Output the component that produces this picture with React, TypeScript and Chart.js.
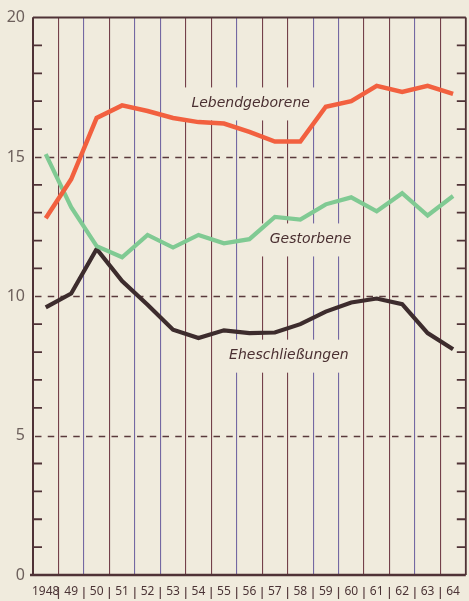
import { useEffect, useRef } from 'react';
import { Chart, registerables } from 'chart.js';

Chart.register(...registerables);

// ---- data ----
const years = ['1948', '49', '50', '51', '52', '53', '54', '55', '56', '57', '58', '59', '60', '61', '62', '63', '64'];
const lebendgeborene = [12.8, 14.2, 16.4, 16.85, 16.65, 16.4, 16.25, 16.2, 15.9, 15.55, 15.55, 16.8, 17.0, 17.55, 17.33, 17.55, 17.26];
const gestorbene = [15.1, 13.2, 11.8, 11.4, 12.2, 11.75, 12.2, 11.9, 12.05, 12.85, 12.75, 13.3, 13.55, 13.05, 13.7, 12.9, 13.6];
const eheschliessungen = [9.6, 10.1, 11.7, 10.55, 9.7, 8.8, 8.5, 8.78, 8.68, 8.7, 9.0, 9.45, 9.78, 9.92, 9.72, 8.68, 8.1];
const seriesNames = ['Lebendgeborene', 'Gestorbene', 'Eheschließungen'];
// label anchors in data units (category index, value)
const labelIndex = [8.05, 10.4, 9.55];
const labelValue = [16.92, 12.04, 7.87];
const yTicks = [0, 5, 10, 15, 20];
const dashedValues = [5, 10, 15];

// ---- styles ----
const BG = '#f0ebdd';
const RED = '#f2603f';
const GREEN = '#80ca93';
const BLACK = '#3d2c2d';
const DARK = '#4f3236';
const BROWN = '#74404a';
const PURPLE = '#7468a2';
const gridColors = [DARK, BROWN, PURPLE, BROWN, PURPLE, PURPLE, BROWN, BROWN, PURPLE, BROWN, BROWN, PURPLE, PURPLE, BROWN, BROWN, PURPLE, BROWN, DARK];
const SANS = '"Noto Sans", sans-serif';

const decorPlugin = {
  id: 'decor',
  beforeDraw(chart: any) {
    const ctx = chart.ctx;
    ctx.save();
    ctx.fillStyle = BG;
    ctx.fillRect(0, 0, chart.width, chart.height);
    ctx.restore();
  },
  beforeDatasetsDraw(chart: any) {
    const ctx = chart.ctx;
    const { left, right, top, bottom } = chart.chartArea;
    const y = chart.scales.y;
    const x = chart.scales.x;
    ctx.save();
    // dashed lines
    ctx.strokeStyle = '#5a3a3c';
    ctx.lineWidth = 1.5;
    ctx.setLineDash([6.5, 6.25]);
    ctx.lineDashOffset = -2;
    for (const v of dashedValues) {
      const py = Math.round(y.getPixelForValue(v)) + 0.5;
      ctx.beginPath();
      ctx.moveTo(left, py);
      ctx.lineTo(right, py);
      ctx.stroke();
    }
    ctx.setLineDash([]);
    // minor ticks
    ctx.strokeStyle = DARK;
    ctx.lineWidth = 1.8;
    for (let v = 1; v < 20; v++) {
      if (v % 5 === 0) continue;
      const py = y.getPixelForValue(v);
      ctx.beginPath();
      ctx.moveTo(left, py);
      ctx.lineTo(left + 9, py);
      ctx.moveTo(right - 9, py);
      ctx.lineTo(right, py);
      ctx.stroke();
    }
    // frame
    ctx.strokeStyle = DARK;
    ctx.lineWidth = 2;
    ctx.beginPath();
    ctx.moveTo(left, top);
    ctx.lineTo(right, top);
    ctx.stroke();
    ctx.lineWidth = 1.8;
    ctx.beginPath();
    ctx.moveTo(right, top);
    ctx.lineTo(right, bottom);
    ctx.stroke();
    ctx.lineWidth = 2;
    ctx.beginPath();
    ctx.moveTo(left, top);
    ctx.lineTo(left, bottom);
    ctx.stroke();
    ctx.lineWidth = 2.5;
    ctx.beginPath();
    ctx.moveTo(left - 3, bottom);
    ctx.lineTo(right, bottom);
    ctx.stroke();
    // separators between year labels
    ctx.strokeStyle = '#5a4042';
    ctx.lineWidth = 1.2;
    for (let i = 1; i < years.length; i++) {
      const px = (x.getPixelForValue(i - 1) + x.getPixelForValue(i)) / 2;
      ctx.beginPath();
      ctx.moveTo(px, bottom + 12);
      ctx.lineTo(px, bottom + 24);
      ctx.stroke();
    }
    // series labels with background boxes that cut the grid lines
    ctx.font = 'italic 14px "DejaVu Sans"';
    ctx.textAlign = 'center';
    ctx.textBaseline = 'middle';
    seriesNames.forEach((name, i) => {
      const cx = x.getPixelForValue(labelIndex[i]);
      const cy = y.getPixelForValue(labelValue[i]);
      const w = ctx.measureText(name).width;
      ctx.fillStyle = BG;
      ctx.fillRect(cx - w / 2 - 9, cy - 16, w + 18, 33);
      ctx.fillStyle = '#4a2f31';
      ctx.fillText(name, cx, cy);
    });
    ctx.restore();
  },
};

export default function App() {
  const ref = useRef<HTMLCanvasElement>(null);
  useEffect(() => {
    document.body.style.margin = '0';
    document.body.style.background = BG;
    const chart = new Chart(ref.current as HTMLCanvasElement, {
      type: 'line',
      data: {
        labels: years,
        datasets: [
          { label: seriesNames[0], data: lebendgeborene, borderColor: RED, borderWidth: 4.5, pointRadius: 0, tension: 0, fill: false },
          { label: seriesNames[1], data: gestorbene, borderColor: GREEN, borderWidth: 4.2, pointRadius: 0, tension: 0, fill: false },
          { label: seriesNames[2], data: eheschliessungen, borderColor: BLACK, borderWidth: 4.2, pointRadius: 0, tension: 0, fill: false },
        ],
      },
      options: {
        responsive: false,
        animation: false,
        devicePixelRatio: 1,
        layout: { padding: { top: 16, right: 2, left: 0, bottom: 0 } },
        plugins: { legend: { display: false }, tooltip: { enabled: false } },
        scales: {
          x: {
            type: 'category',
            offset: true,
            border: { display: false },
            grid: {
              offset: true,
              drawTicks: false,
              lineWidth: 1.1,
              color: (c: any) => gridColors[c.index ?? gridColors.length - 1] || DARK,
            },
            ticks: {
              padding: 9,
              autoSkip: false,
              maxRotation: 0,
              color: '#4b3436',
              font: { family: SANS, size: 12 },
            },
            afterFit: (s: any) => { s.height = 26; },
          },
          y: {
            min: 0,
            max: 20,
            border: { display: false },
            grid: { display: false, drawTicks: false },
            afterBuildTicks: (s: any) => { s.ticks = yTicks.map((v) => ({ value: v })); },
            ticks: {
              padding: 8,
              color: '#6d605c',
              font: { family: SANS, size: 16 },
            },
            afterFit: (s: any) => { s.width = 33; },
          },
        },
      },
      plugins: [decorPlugin],
    });
    return () => chart.destroy();
  }, []);
  return <canvas ref={ref} width={469} height={601} style={{ display: 'block', width: 469, height: 601 }} />;
}
